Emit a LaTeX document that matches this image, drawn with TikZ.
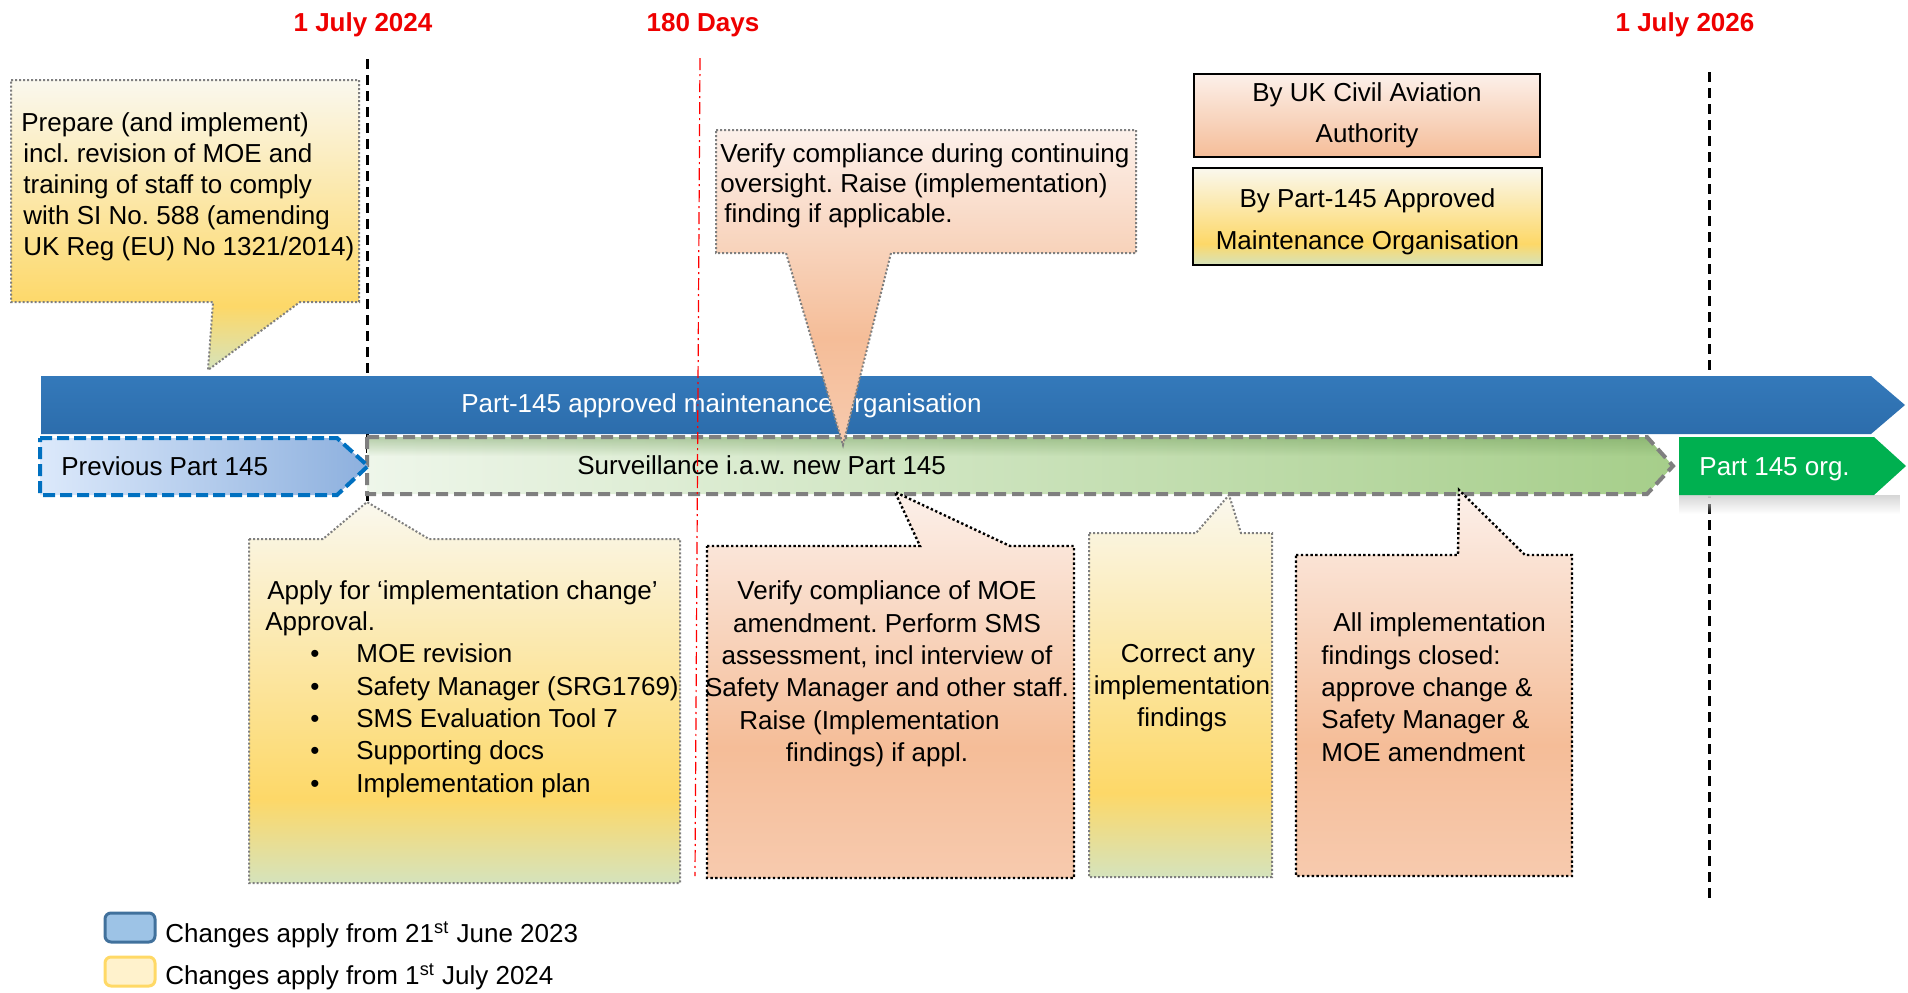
\documentclass[tikz,border=0pt]{standalone}
\usepackage{fontspec}
\setmainfont{Liberation Sans}
\usetikzlibrary{fadings}
\frenchspacing
\definecolor{datered}{HTML}{EE0000}
\definecolor{bluetop}{HTML}{3479BA}
\definecolor{bluebot}{HTML}{2C6DAC}
\definecolor{prevL}{HTML}{DCE9FB}
\definecolor{prevR}{HTML}{8DB0DE}
\definecolor{prevB}{HTML}{0070C0}
\definecolor{grnL}{HTML}{EEF6EA}
\definecolor{grnR}{HTML}{A6CE8A}
\definecolor{grnDark}{HTML}{6E9A58}
\definecolor{dashgray}{HTML}{7F7F7F}
\definecolor{dotgray}{HTML}{7F7F7F}
\definecolor{orggreen}{HTML}{00B050}
\definecolor{ycre}{HTML}{FAF8EE}
\definecolor{yyel}{HTML}{FDD868}
\definecolor{ygrn}{HTML}{D5E3BC}
\definecolor{ptop}{HTML}{FCF0EA}
\definecolor{ppch}{HTML}{F5BD98}
\definecolor{pbot}{HTML}{F7CAAE}
\definecolor{legblue}{HTML}{9DC3E6}
\definecolor{legblueB}{HTML}{41719C}
\definecolor{legyel}{HTML}{FFF2CC}
\definecolor{legyelB}{HTML}{FFD966}
\pgfdeclareverticalshading{yelsh}{100bp}{color(0bp)=(ygrn); color(25bp)=(ygrn); color(36bp)=(yyel); color(75bp)=(ycre); color(100bp)=(ycre)}
\pgfdeclareverticalshading{pchsh}{100bp}{color(0bp)=(pbot); color(25bp)=(pbot); color(42bp)=(ppch); color(75bp)=(ptop); color(100bp)=(ptop)}
\tikzset{
  dateline/.style={line width=1.5pt, dash pattern=on 5pt off 3pt, black},
  redline/.style={line width=0.6pt, red, dash pattern=on 6pt off 2pt on 1pt off 2pt},
  graydot/.style={draw=dotgray, line width=1pt, dash pattern=on 1pt off 1pt},
  blackdot/.style={draw=black, line width=1.2pt, dash pattern=on 1.2pt off 1.2pt},
  ycall/.style={shade, shading=yelsh},
  pcall/.style={shade, shading=pchsh},
  datelbl/.style={text=datered, font=\fontsize{13}{15.5}\selectfont\bfseries, anchor=base},
  bodytxt/.style={align=left, anchor=north west},
  ctrtxt/.style={align=center, anchor=north},
  bartxt/.style={anchor=base west},
}
\begin{document}
\begin{tikzpicture}[x=0.5pt,y=-0.5pt, every node/.style={inner sep=0pt, font=\fontsize{13}{15.5}\selectfont}]
\useasboundingbox (0,0) rectangle (1908,992);

% date labels
\node[datelbl] (d2024) at (363,31) {1 July 2024};
\node[datelbl] (d180) at (703,31) {180 Days};
\node[datelbl] (d2026) at (1685,31) {1 July 2026};

% vertical date lines (behind bars)
\coordinate (l1t) at (367,59);
\coordinate (l1b) at (367,502);
\coordinate (l2t) at (1709,72);
\coordinate (l2b) at (1709,898);
\draw[dateline] (l1t) -- (l1b);
\draw[dateline] (l2t) -- (l2b);

% bars
\path[shade, top color=bluetop, bottom color=bluebot] (41,376) -- (1871,376) -- (1905,405) -- (1871,434) -- (41,434) -- cycle;
\node[bartxt, text=white] (bluetxt) at (461,412) {Part-145 approved maintenance organisation};

\path[shade, left color=grnL, right color=grnR] (367,437) -- (1647,437) -- (1673,466) -- (1647,494) -- (367,494) -- cycle;
\fill[grnDark, fill opacity=0.45, path fading=south] (369,437) -- (1647,437) -- (1664,456) -- (369,456) -- cycle;
\draw[draw=dashgray, line width=2pt, dash pattern=on 6pt off 3pt]
  (367,437) -- (1647,437) -- (1673,466) -- (1647,494) -- (367,494) -- cycle;
\node[bartxt] (survtxt) at (577,474) {Surveillance i.a.w. new Part 145};

\fill[black!14, path fading=south] (46,441) rectangle (40,500);
\path[shade, left color=prevL, right color=prevR, draw=prevB, line width=2pt, dash pattern=on 6pt off 2.5pt]
  (40,438) -- (337,438) -- (368,466) -- (337,495) -- (40,495) -- cycle;
\node[bartxt] (prevtxt) at (61,475) {Previous Part 145};

\fill[black!16, path fading=south] (1679,495) rectangle (1900,514);
\fill[orggreen] (1679,437) -- (1874,437) -- (1906,466) -- (1874,495) -- (1679,495) -- cycle;
\node[bartxt, text=white] (orgtxt) at (1699,475) {Part 145 org.};

% red 180 day line
\coordinate (rt) at (700,58);
\coordinate (rb) at (695,876);
\draw[redline] (rt) -- (rb);

% legend boxes (top right)
\path[shade, top color=ptop, bottom color=ppch, draw=black, line width=1.2pt] (1194,74) rectangle (1540,157);
\node[ctrtxt, font=\fontsize{13}{20.5}\selectfont] (caa) at (1367,82.5) {By UK Civil Aviation\\Authority};
\path[ycall, draw=black, line width=1.2pt] (1193,168) rectangle (1542,265);
\node[ctrtxt, font=\fontsize{13}{21}\selectfont] (amo) at (1367.5,188.5) {By Part-145 Approved\\Maintenance Organisation};

% callout: prepare
\path[ycall, graydot] (11,80) -- (359,80) -- (359,302) -- (300,302) -- (208,370) -- (213,302) -- (11,302) -- cycle;
\node[bodytxt] (prep) at (21,112.5) {Prepare (and implement)\\\hspace*{1pt}incl. revision of MOE and\\\hspace*{1pt}training of staff to comply\\\hspace*{1pt}with SI No. 588 (amending\\\hspace*{1pt}UK Reg (EU) No 1321/2014)};

% callout: verify during continuing oversight
\path[pcall, graydot] (716,130) -- (1136,130) -- (1136,253) -- (891,253) -- (843,445) -- (786,253) -- (716,253) -- cycle;
\node[bodytxt, font=\fontsize{13}{15}\selectfont] (cont) at (720,143.5) {Verify compliance during continuing\\oversight. Raise (implementation)\\\hspace*{2pt}finding if applicable.};

% callout: apply
\path[ycall, graydot] (249,539) -- (323,539) -- (367,502) -- (429,539) -- (680,539) -- (680,883) -- (249,883) -- cycle;
\node[bodytxt] (apply) at (265,580.5) {\hspace*{1pt}Apply for ‘implementation change’\\Approval.};
\node[bodytxt, font=\fontsize{13}{16.2}\selectfont] (blist) at (356,643.5) {\llap{\textbullet\hspace{18.5pt}}MOE revision\\\llap{\textbullet\hspace{18.5pt}}Safety Manager (SRG1769)\\\llap{\textbullet\hspace{18.5pt}}SMS Evaluation Tool 7\\\llap{\textbullet\hspace{18.5pt}}Supporting docs\\\llap{\textbullet\hspace{18.5pt}}Implementation plan};

% callout: verify MOE
\path[pcall, blackdot] (707,546) -- (920,546) -- (895,492) -- (1010,546) -- (1074,546) -- (1074,878) -- (707,878) -- cycle;
\node[ctrtxt, font=\fontsize{13}{16.2}\selectfont] (moe) at (887,580.5) {Verify compliance of MOE\\amendment. Perform SMS\\assessment, incl interview of\\Safety Manager and other staff.\\Raise (Implementation\rule{17.5pt}{0pt}\\findings) if appl.\rule{10pt}{0pt}};

% callout: correct any
\path[ycall, graydot] (1089,533) -- (1196,533) -- (1229,495) -- (1241,533) -- (1272,533) -- (1272,877) -- (1089,877) -- cycle;
\node[ctrtxt, font=\fontsize{13}{16.2}\selectfont] (corr) at (1182,643.5) {\hspace*{6pt}Correct any\\implementation\\findings};

% callout: all closed
\path[pcall, blackdot] (1296,555) -- (1458,555) -- (1459,490) -- (1525,555) -- (1572,555) -- (1572,876) -- (1296,876) -- cycle;
\node[bodytxt, font=\fontsize{13}{16.2}\selectfont] (closed) at (1321,612.5) {\hspace*{6pt}All implementation\\findings closed:\\approve change \&\\Safety Manager \&\\MOE amendment};

% bottom legend
\draw[fill=legblue, draw=legblueB, line width=1.5pt, rounded corners=3pt] (105,913) rectangle (155,942);
\node[bartxt] (leg1) at (165,942) {Changes apply from 21\textsuperscript{st} June 2023};
\draw[fill=legyel, draw=legyelB, line width=1.5pt, rounded corners=3pt] (105,957) rectangle (155,986);
\node[bartxt] (leg2) at (165,984) {Changes apply from 1\textsuperscript{st} July 2024};
\end{tikzpicture}
\end{document}
